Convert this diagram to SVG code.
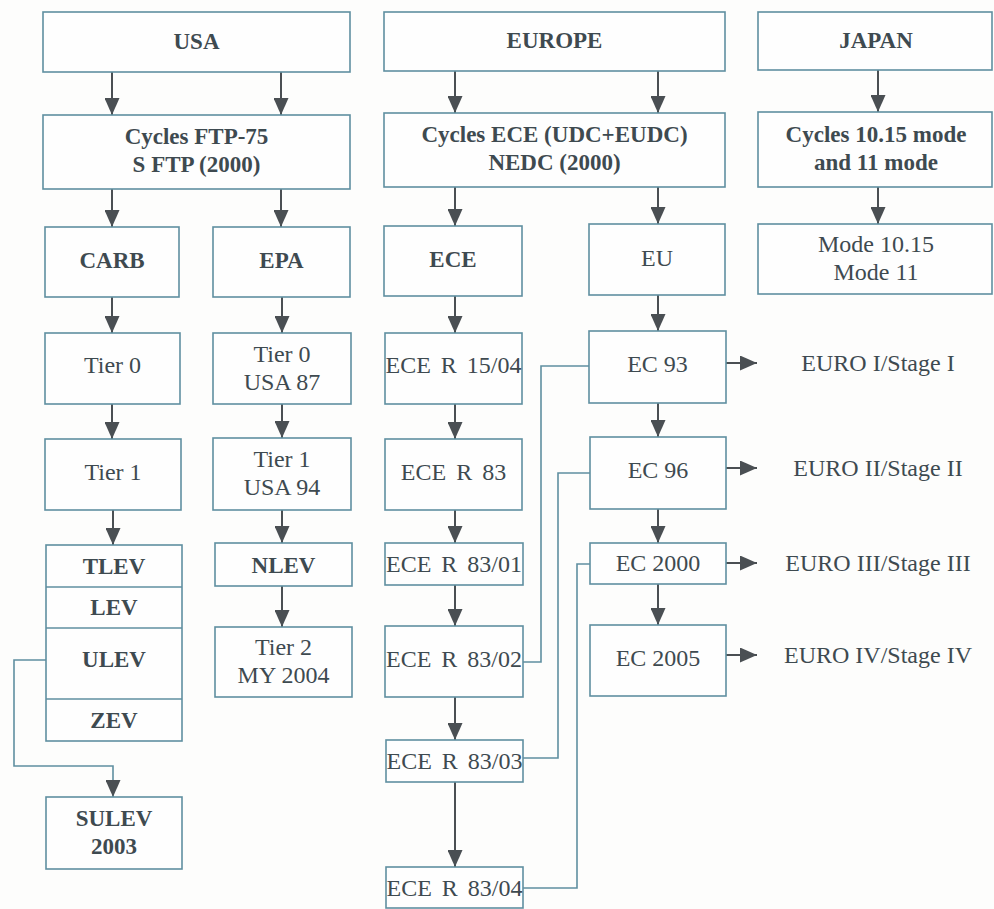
<svg xmlns="http://www.w3.org/2000/svg" width="994" height="909" viewBox="0 0 994 909">
<defs>
<style>
.box{fill:#fefefe;stroke:#5f8fa0;stroke-width:1.6}
.div{stroke:#5f8fa0;stroke-width:1.6;fill:none}
.t{font-family:"Liberation Serif","Times New Roman",serif;font-size:24px;fill:#3e4a50;text-anchor:middle}
.b{font-weight:bold;font-size:23px}
.ar{stroke:#4a4f53;stroke-width:2;fill:none;marker-end:url(#ah)}
.cn{stroke:#5f8fa0;stroke-width:1.6;fill:none}
.cna{stroke:#5f8fa0;stroke-width:1.6;fill:none;marker-end:url(#ah)}
</style>
<marker id="ah" markerUnits="userSpaceOnUse" markerWidth="17" markerHeight="15" refX="17" refY="7.5" orient="auto">
<path d="M0,0 L17,7.5 L0,15 z" fill="#4a4f53"/>
</marker>
</defs>
<rect width="994" height="909" fill="#fdfdfc"/>

<g id="connectors">
<line class="ar" x1="112" y1="72" x2="112" y2="115"/>
<line class="ar" x1="281" y1="72" x2="281" y2="115"/>
<line class="ar" x1="455" y1="71" x2="455" y2="113"/>
<line class="ar" x1="658" y1="71" x2="658" y2="113"/>
<line class="ar" x1="878" y1="70" x2="878" y2="112"/>
<line class="ar" x1="112" y1="189" x2="112" y2="227"/>
<line class="ar" x1="281" y1="189" x2="281" y2="227"/>
<line class="ar" x1="455" y1="187" x2="455" y2="226"/>
<line class="ar" x1="658" y1="187" x2="658" y2="224"/>
<line class="ar" x1="878" y1="187" x2="878" y2="224"/>
<line class="ar" x1="112" y1="297" x2="112" y2="333"/>
<line class="ar" x1="282" y1="297" x2="282" y2="333"/>
<line class="ar" x1="455" y1="296" x2="455" y2="333"/>
<line class="ar" x1="658" y1="295" x2="658" y2="331"/>
<line class="ar" x1="112" y1="404" x2="112" y2="439"/>
<line class="ar" x1="282" y1="404" x2="282" y2="438"/>
<line class="ar" x1="455" y1="404" x2="455" y2="439"/>
<line class="ar" x1="658" y1="403" x2="658" y2="437"/>
<line class="ar" x1="113" y1="510" x2="113" y2="545"/>
<line class="ar" x1="282" y1="510" x2="282" y2="543"/>
<line class="ar" x1="455" y1="510" x2="455" y2="543"/>
<line class="ar" x1="658" y1="509" x2="658" y2="543"/>
<line class="ar" x1="282" y1="586" x2="282" y2="627"/>
<line class="ar" x1="455" y1="585" x2="455" y2="626"/>
<line class="ar" x1="658" y1="584" x2="658" y2="625"/>
<line class="ar" x1="455" y1="697" x2="455" y2="740"/>
<line class="ar" x1="455" y1="782" x2="455" y2="867"/>
<line class="ar" x1="726" y1="363" x2="757" y2="363"/>
<line class="ar" x1="726" y1="468" x2="757" y2="468"/>
<line class="ar" x1="726" y1="563" x2="757" y2="563"/>
<line class="ar" x1="726" y1="655" x2="757" y2="655"/>
<path class="cna" d="M46,660 H14 V766 H113 V797"/>
<path class="cn" d="M589,366 H541 V662 H523"/>
<path class="cn" d="M590,473 H558 V758 H523"/>
<path class="cn" d="M590,564 H577 V888 H523"/>
</g>

<g id="usa"><rect class="box" x="43" y="12" width="307" height="60"/><text class="t b" x="196.5" y="49">USA</text></g>
<g id="europe"><rect class="box" x="384" y="12" width="341" height="59"/><text class="t b" x="554.5" y="48">EUROPE</text></g>
<g id="japan"><rect class="box" x="758" y="12" width="234" height="58"/><text class="t b" x="876" y="48">JAPAN</text></g>

<g id="cycles-usa"><rect class="box" x="43" y="115" width="307" height="74"/><text class="t b" x="196.5" y="144">Cycles FTP-75</text><text class="t b" x="196.5" y="172">S FTP (2000)</text></g>
<g id="cycles-europe"><rect class="box" x="384" y="113" width="341" height="74"/><text class="t b" x="554.5" y="142">Cycles ECE (UDC+EUDC)</text><text class="t b" x="554.5" y="170">NEDC (2000)</text></g>
<g id="cycles-japan"><rect class="box" x="758" y="112" width="234" height="75"/><text class="t b" x="876" y="142">Cycles 10.15 mode</text><text class="t b" x="876" y="170">and 11 mode</text></g>

<g id="carb"><rect class="box" x="45" y="227" width="134" height="70"/><text class="t b" x="112" y="268">CARB</text></g>
<g id="epa"><rect class="box" x="213" y="227" width="137" height="70"/><text class="t b" x="281.5" y="268">EPA</text></g>
<g id="ece"><rect class="box" x="384" y="226" width="138" height="70"/><text class="t b" x="453" y="267">ECE</text></g>
<g id="eu"><rect class="box" x="589" y="224" width="136" height="71"/><text class="t" x="657" y="266">EU</text></g>
<g id="mode"><rect class="box" x="758" y="224" width="234" height="70"/><text class="t" x="876" y="252">Mode 10.15</text><text class="t" x="876" y="280">Mode 11</text></g>

<g id="tier0-carb"><rect class="box" x="45" y="333" width="135" height="71"/><text class="t" x="112.5" y="373">Tier 0</text></g>
<g id="tier0-epa"><rect class="box" x="213" y="333" width="138" height="71"/><text class="t" x="282" y="362">Tier 0</text><text class="t" x="282" y="390">USA 87</text></g>
<g id="ece-r-15-04"><rect class="box" x="385" y="333" width="137" height="71"/><text class="t" x="453.5" y="373" word-spacing="4">ECE R 15/04</text></g>
<g id="ec93"><rect class="box" x="589" y="331" width="137" height="72"/><text class="t" x="657.5" y="372">EC 93</text></g>
<text class="t" x="878" y="371">EURO I/Stage I</text>

<g id="tier1-carb"><rect class="box" x="45" y="439" width="136" height="71"/><text class="t" x="113" y="480">Tier 1</text></g>
<g id="tier1-epa"><rect class="box" x="213" y="438" width="138" height="72"/><text class="t" x="282" y="467">Tier 1</text><text class="t" x="282" y="495">USA 94</text></g>
<g id="ece-r-83"><rect class="box" x="385" y="439" width="137" height="71"/><text class="t" x="453.5" y="480" word-spacing="4">ECE R 83</text></g>
<g id="ec96"><rect class="box" x="590" y="437" width="136" height="72"/><text class="t" x="658" y="478">EC 96</text></g>
<text class="t" x="878" y="476">EURO II/Stage II</text>

<g id="lev-stack"><rect class="box" x="46" y="545" width="136" height="196"/><line class="div" x1="46" y1="587" x2="182" y2="587"/><line class="div" x1="46" y1="628" x2="182" y2="628"/><line class="div" x1="46" y1="699" x2="182" y2="699"/>
<text class="t b" x="114" y="574">TLEV</text><text class="t b" x="114" y="615">LEV</text><text class="t b" x="114" y="667">ULEV</text><text class="t b" x="114" y="728">ZEV</text></g>
<g id="nlev"><rect class="box" x="215" y="543" width="137" height="43"/><text class="t b" x="283.5" y="573">NLEV</text></g>
<g id="ece-r-83-01"><rect class="box" x="385" y="543" width="138" height="42"/><text class="t" x="454" y="572" word-spacing="4">ECE R 83/01</text></g>
<g id="ec2000"><rect class="box" x="590" y="543" width="136" height="41"/><text class="t" x="658" y="571">EC 2000</text></g>
<text class="t" x="878" y="571">EURO III/Stage III</text>

<g id="tier2"><rect class="box" x="215" y="627" width="137" height="70"/><text class="t" x="283.5" y="655">Tier 2</text><text class="t" x="283.5" y="683">MY 2004</text></g>
<g id="ece-r-83-02"><rect class="box" x="385" y="626" width="138" height="71"/><text class="t" x="454" y="667" word-spacing="4">ECE R 83/02</text></g>
<g id="ec2005"><rect class="box" x="590" y="625" width="136" height="71"/><text class="t" x="658" y="666">EC 2005</text></g>
<text class="t" x="878" y="663">EURO IV/Stage IV</text>

<g id="ece-r-83-03"><rect class="box" x="386" y="740" width="137" height="42"/><text class="t" x="454.5" y="769" word-spacing="4">ECE R 83/03</text></g>
<g id="ece-r-83-04"><rect class="box" x="386" y="867" width="137" height="41"/><text class="t" x="454.5" y="896" word-spacing="4">ECE R 83/04</text></g>
<g id="sulev"><rect class="box" x="46" y="797" width="136" height="72"/><text class="t b" x="114" y="826">SULEV</text><text class="t b" x="114" y="854">2003</text></g>
</svg>
